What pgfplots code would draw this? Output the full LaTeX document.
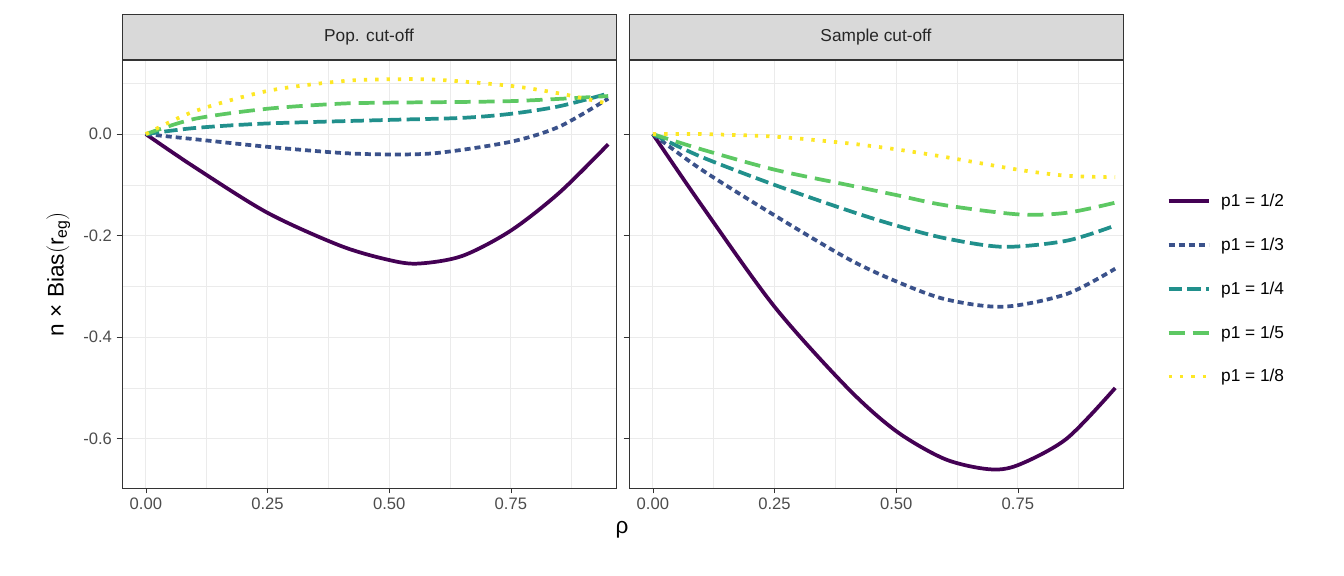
\documentclass[border=0pt]{standalone}
\usepackage{pgfplots}
\pgfplotsset{compat=1.18}
\usepackage{fontspec}
\setmainfont{Liberation Sans}
\definecolor{v1}{HTML}{440154}
\definecolor{v2}{HTML}{3B528B}
\definecolor{v3}{HTML}{21908C}
\definecolor{v4}{HTML}{5DC863}
\definecolor{v5}{HTML}{FDE725}
\definecolor{gridc}{HTML}{EBEBEB}
\definecolor{stripc}{HTML}{D9D9D9}
\pgfplotsset{
  panel/.style={
    scale only axis, width=370.5bp, height=321bp,
    xmin=-0.049, xmax=0.966, ymin=-0.697, ymax=0.146,
    axis line style={draw=black!80, line width=0.5bp},
    grid=both, major grid style={gridc, line width=0.8bp}, minor grid style={gridc, line width=0.4bp},
    xtick={0,0.25,0.5,0.75}, xticklabels={0.00,0.25,0.50,0.75},
    minor xtick={0.125,0.375,0.625,0.875},
    ytick={-0.6,-0.4,-0.2,0}, minor ytick={-0.5,-0.3,-0.1,0.1},
    tick align=outside, major tick length=4bp, minor tick length=0pt, tick style={black!80, line width=0.5bp},
    xtick pos=bottom, ytick pos=left,
    ticklabel style={font=\fontsize{12.5}{14}\selectfont, text=black!70},
    clip=false,
  },
  s1/.style={v1, line width=2.8bp, smooth},
  s2/.style={v2, line width=2.8bp, smooth, dash pattern=on 4.5bp off 3bp},
  s3/.style={v3, line width=2.8bp, smooth, dash pattern=on 10bp off 4bp},
  s4/.style={v4, line width=2.8bp, smooth, dash pattern=on 12bp off 6bp},
  s5/.style={v5, line width=2.8bp, smooth, dash pattern=on 2.5bp off 6bp},
}
\newcommand{\strip}[1]{\node[anchor=south, fill=stripc, draw=black!80, line width=0.5bp, minimum width=370.5bp, minimum height=33.75bp, inner sep=0pt, font=\fontsize{13}{15}\selectfont, text=black!85] at (rel axis cs:0.5,1) {#1};}
\begin{document}
\begin{tikzpicture}
\path[use as bounding box] (-91.5bp,-66bp) rectangle (916.5bp,366bp);
\begin{axis}[panel, at={(0,0)}, anchor=south west,
  yticklabels={-0.6,-0.4,-0.2,0.0},
  ylabel={n × Bias$\bigl($r\textsubscript{eg}$\bigr)$}, ylabel style={font=\fontsize{17}{19}\selectfont, yshift=3bp}]
\addplot[s1] coordinates {(0,0)(0.1,-0.065)(0.25,-0.155)(0.4,-0.22)(0.5,-0.248)(0.56,-0.255)(0.65,-0.24)(0.75,-0.19)(0.85,-0.115)(0.95,-0.02)};
\addplot[s2] coordinates {(0,0)(0.1,-0.01)(0.25,-0.025)(0.4,-0.037)(0.5,-0.04)(0.6,-0.037)(0.75,-0.015)(0.85,0.015)(0.95,0.07)};
\addplot[s3] coordinates {(0,0)(0.1,0.012)(0.25,0.021)(0.5,0.028)(0.65,0.032)(0.75,0.04)(0.85,0.055)(0.95,0.08)};
\addplot[s4] coordinates {(0,0)(0.1,0.03)(0.25,0.05)(0.4,0.06)(0.5,0.062)(0.75,0.065)(0.95,0.075)};
\addplot[s5] coordinates {(0,0)(0.1,0.045)(0.25,0.085)(0.4,0.104)(0.5,0.108)(0.6,0.107)(0.75,0.095)(0.85,0.08)(0.95,0.06)};
\strip{Pop. cut-off}
\end{axis}
\begin{axis}[panel, at={(380.25bp,0)}, anchor=south west, yticklabels={},
  xlabel={ρ}, xlabel style={font=\fontsize{17}{19}\selectfont, at={(ticklabel cs:-0.014)}, anchor=north, yshift=-2bp},
  legend style={at={(1.08,0.70)}, anchor=north west, draw=none, fill=none, font=\fontsize{13}{15}\selectfont, row sep=18bp, nodes={inner sep=2bp}},
  legend cell align=left,
  legend image post style={sharp plot},
  legend image code/.code={\draw[#1] (0bp,0bp) -- (30bp,0bp);\path (36bp,0bp);}]
\addplot[s1] coordinates {(0,0)(0.1,-0.14)(0.25,-0.34)(0.4,-0.5)(0.5,-0.585)(0.6,-0.64)(0.69,-0.66)(0.75,-0.652)(0.85,-0.6)(0.95,-0.5)};
\addplot[s2] coordinates {(0,0)(0.1,-0.07)(0.25,-0.16)(0.4,-0.245)(0.5,-0.29)(0.6,-0.325)(0.72,-0.34)(0.85,-0.315)(0.95,-0.265)};
\addplot[s3] coordinates {(0,0)(0.1,-0.045)(0.25,-0.1)(0.4,-0.15)(0.5,-0.18)(0.6,-0.205)(0.72,-0.222)(0.85,-0.21)(0.95,-0.18)};
\addplot[s4] coordinates {(0,0)(0.1,-0.03)(0.25,-0.07)(0.4,-0.1)(0.5,-0.12)(0.6,-0.14)(0.75,-0.158)(0.85,-0.155)(0.95,-0.135)};
\addplot[s5] coordinates {(0,0)(0.1,0.0)(0.25,-0.005)(0.4,-0.018)(0.5,-0.03)(0.6,-0.045)(0.75,-0.07)(0.85,-0.082)(0.95,-0.085)};
\legend{p1 = 1/2, p1 = 1/3, p1 = 1/4, p1 = 1/5, p1 = 1/8}
\strip{Sample cut-off}
\end{axis}
\end{tikzpicture}
\end{document}
